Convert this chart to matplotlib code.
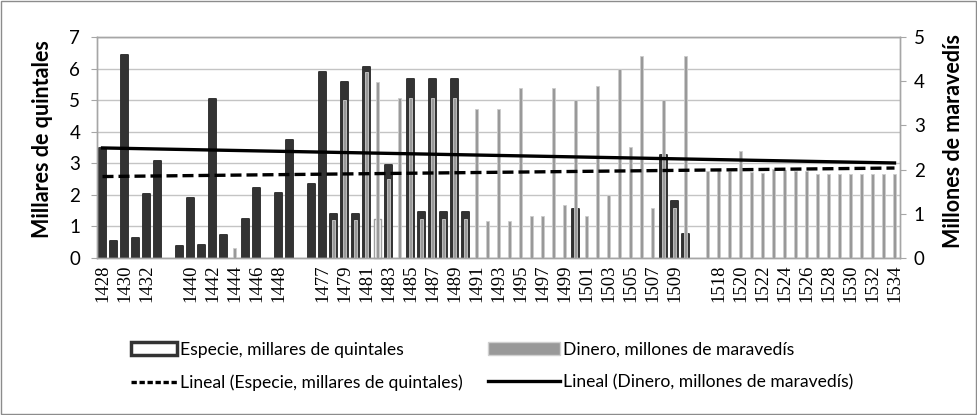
import numpy as np
import matplotlib
matplotlib.use("Agg")
import matplotlib.pyplot as plt
from matplotlib.patches import Patch, Rectangle
from matplotlib.lines import Line2D

nan = np.nan

# categorias del eje (las vacias son huecos en la serie)
anios = ([str(a) for a in range(1428, 1434)] + [''] +
         [str(a) for a in range(1439, 1450)] + [''] +
         [str(a) for a in range(1476, 1511)] + [''] +
         [str(a) for a in range(1517, 1535)])

# Especie, millares de quintales (eje izquierdo)
especie = ([3.48, 0.55, 6.44, 0.63, 2.04, 3.06] + [nan] +
           [0.37, 1.90, 0.40, 5.04, 0.74, nan, 1.24, 2.22, nan, 2.06, 3.75] + [nan] +
           [2.35, 5.88, 1.39, 5.57, 1.39, 6.04, 1.22, 2.94, nan, 5.67, 1.45, 5.67, 1.45, 5.67, 1.45] +
           [nan] * 9 + [1.55] + [nan] * 7 + [3.27, 1.80, 0.76] + [nan] +
           [nan] * 18)

# Dinero, millones de maravedis (eje derecho)
dinero = ([nan] * 6 + [nan] +
          [nan] * 5 + [0.23] + [nan] * 5 + [nan] +
          [nan, nan, 0.87, 3.58, 0.87, 4.20, 3.98, 1.79, 3.62, 3.62, 0.89, 3.62, 0.89, 3.62, 0.89,
           3.37, 0.83, 3.37, 0.83, 3.85, 0.94, 0.94, 3.85, 1.21, 3.58,
           0.94, 3.90, 1.42, 4.28, 2.51, 4.57, 1.13, 3.57, 1.13, 4.57] + [nan] +
          [1.96, 2.00, 1.96, 2.43, 1.95, 1.93, 2.02, 2.00, 1.96, 1.96,
           1.89, 1.89, 1.89, 1.89, 1.89, 1.89, 1.89, 1.89])

# lineas de tendencia (extremos)
tend_especie = [2.58, 2.85]
tend_dinero = [2.49, 2.15]

x = np.arange(len(anios))

fig = plt.figure(figsize=(9.77, 4.15), dpi=100)
ax = fig.add_axes([97 / 977, 157 / 415, 803 / 977, 221 / 415])
ax2 = ax.twinx()

ax.set_xlim(-0.5, len(anios) - 0.5)
ax.set_ylim(0, 7)
ax2.set_ylim(0, 5)

ax.set_axisbelow(True)
ax.yaxis.grid(True, color='#c4c4c4', lw=1)

barras = ax.bar(x, especie, width=0.6, color='#333333', edgecolor='#333333',
                linewidth=1.4, joinstyle='round', clip_on=False)
# la barra de 1482 aparece solo como contorno claro
i1482 = anios.index('1482')
barras[i1482].set_facecolor('white')
barras[i1482].set_edgecolor('#a0a0a0')
barras[i1482].set_linewidth(1.0)

ax2.bar(x, dinero, width=0.36, color='#999999', edgecolor='#cccccc', linewidth=0.6)

ext = [x[0], x[-1]]
ax2.plot(ext, tend_especie, color='black', lw=2.4, dashes=(3.3, 1.5), transform=ax.transData)
ax2.plot(ext, tend_dinero, color='black', lw=2.4)
ax2.set_ylim(0, 5)

# ejes
for a in (ax, ax2):
    for s in a.spines.values():
        s.set_color('#a6a6a6')
        s.set_linewidth(1)

ax.set_xticks(x[::2])
ax.set_xticklabels(anios[::2], rotation=90, family='Liberation Serif', fontsize=13.5)
ax.tick_params(axis='x', length=0, pad=5)

ax.set_yticks(range(0, 8))
ax.tick_params(axis='y', length=4, color='#a6a6a6', pad=8, labelsize=13.5)
ax2.set_yticks(range(0, 6))
ax2.tick_params(axis='y', length=4, color='#a6a6a6', pad=6, labelsize=13.5)
for t in ax.get_yticklabels() + ax2.get_yticklabels():
    t.set_family(['Lato', 'DejaVu Sans'])

ax.set_ylabel('Millares de quintales', family=['Lato', 'DejaVu Sans'],
              fontsize=15.5, fontweight='bold')
ax.yaxis.set_label_coords(-0.055, 0.54)
ax2.set_ylabel('Millones de maravedís', family=['Lato', 'DejaVu Sans'],
               fontsize=15.5, fontweight='bold', rotation=90)
ax2.yaxis.set_label_coords(1.054, 0.53)

# leyenda en dos columnas
prop = dict(family=['Lato', 'DejaVu Sans'], size=12.6)
h_esp = Patch(facecolor='white', edgecolor='#333333', linewidth=2.5)
h_din = Patch(facecolor='#999999', edgecolor='#d0d0d0', linewidth=1)
h_tesp = Line2D([], [], color='black', lw=2.4, dashes=(1.6, 0.8))
h_tdin = Line2D([], [], color='black', lw=2.4)

fig.legend([h_esp, h_tesp],
           ['Especie, millares de quintales', 'Lineal (Especie, millares de quintales)'],
           loc='upper left', bbox_to_anchor=(131 / 977, 1 - 342 / 415), frameon=False,
           prop=prop, handlelength=2.6, handleheight=0.75, handletextpad=0.2,
           labelspacing=0.95, borderpad=0, borderaxespad=0)
fig.legend([h_din, h_tdin],
           ['Dinero, millones de maravedís', 'Lineal (Dinero, millones de maravedís)'],
           loc='upper left', bbox_to_anchor=(488 / 977, 1 - 342 / 415), frameon=False,
           prop=prop, handlelength=4.1, handleheight=0.75, handletextpad=0.2,
           labelspacing=0.95, borderpad=0, borderaxespad=0)

fig.patches.append(Rectangle((1 / 977, 1 / 415), 975 / 977, 413 / 415, transform=fig.transFigure,
                             fill=False, edgecolor='#8c8c8c', lw=1))

fig.savefig('out.png', dpi=100)
